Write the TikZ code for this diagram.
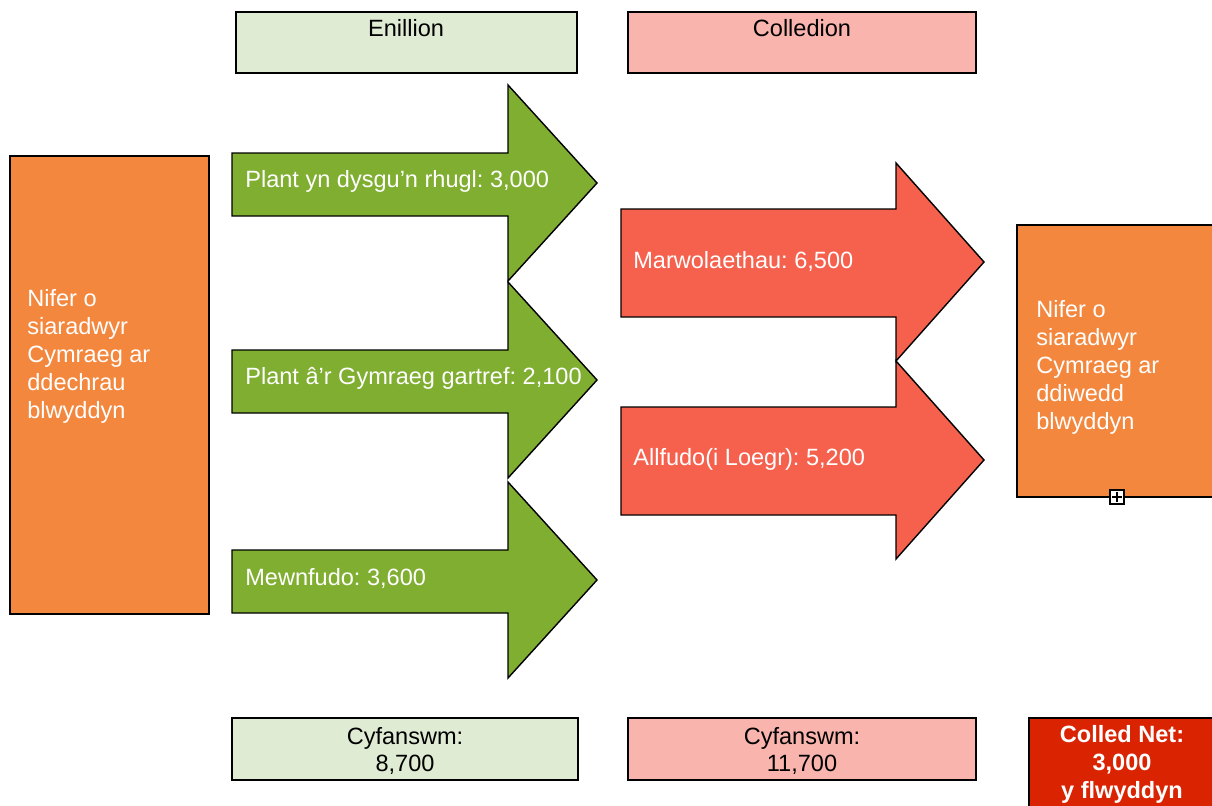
\documentclass[tikz,border=0pt]{standalone}
\usepackage{fontspec}
\setmainfont{Liberation Sans}
\usetikzlibrary{positioning}
\definecolor{gainbg}{HTML}{DFEBD3}
\definecolor{lossbg}{HTML}{F8B4AD}
\definecolor{spkorange}{HTML}{F3873D}
\definecolor{gainarrow}{HTML}{80AE31}
\definecolor{lossarrow}{HTML}{F6614E}
\definecolor{netred}{HTML}{DA2300}
\tikzset{
  box/.style={draw=black, line width=0.8pt},
  arrowtext/.style={text=white, anchor=west, inner sep=0pt},
  boxtext/.style={text=white, align=left, anchor=north west, inner sep=0pt}
}
\frenchspacing

\begin{document}
\begin{tikzpicture}[x=0.02cm, y=-0.02cm, every node/.style={font=\fontsize{13.4}{15.9}\selectfont}]
\useasboundingbox (0,0) rectangle (1212,805);

%headers
\draw[box, fill=gainbg] (236,12) rectangle (577,73);
\node (gainhead) at (406,28) {Enillion};
\draw[box, fill=lossbg] (628,12) rectangle (976,73);
\node (losshead) at (802,28) {Colledion};

%start and end
\draw[box, fill=spkorange] (10,156) rectangle (209,614);
\node[boxtext] (start) at (27,289) {Nifer o\\siaradwyr\\Cymraeg ar\\ddechrau\\blwyddyn};
\draw[box, fill=spkorange] (1017,225) rectangle (1215,497);
\node[boxtext] (finish) at (1036,300) {Nifer o\\siaradwyr\\Cymraeg ar\\ddiwedd\\blwyddyn};
\draw[line width=0.8pt, fill=white] (1110,490) rectangle (1124,504);
\draw[line width=0.8pt] (1112,497) -- (1122,497) (1117,492) -- (1117,502);

%gains
\foreach \cy/\txt [count=\i] in {183/{Plant yn dysgu’n rhugl: 3,000}, 380/{Plant â’r Gymraeg gartref: 2,100}, 580/{Mewnfudo: 3,600}}{
  \draw[box, fill=gainarrow] (232,\cy-30) -- (508,\cy-30) -- (508,\cy-98) -- (597,\cy) -- (508,\cy+98) -- (508,\cy+33) -- (232,\cy+33) -- cycle;
  \node[arrowtext] (gain\i) at (245,\cy-2) {\txt};
}

%losses
\foreach \cy/\txt [count=\i] in {262/{Marwolaethau: 6,500}, 460/{Allfudo(i Loegr): 5,200}}{
  \draw[box, fill=lossarrow] (621,\cy-53) -- (896,\cy-53) -- (896,\cy-99) -- (984,\cy) -- (896,\cy+99) -- (896,\cy+55) -- (621,\cy+55) -- cycle;
  \node[arrowtext] (loss\i) at (633,\cy-1) {\txt};
}

%totals
\draw[box, fill=gainbg] (232,718) rectangle (578,780);
\node[align=center] (gaintotal) at (405,751) {Cyfanswm:\\8,700};
\draw[box, fill=lossbg] (628,718) rectangle (976,780);
\node[align=center] (losstotal) at (802,751) {Cyfanswm:\\11,700};
\draw[box, fill=netred] (1029,718) rectangle (1215,810);
\node[align=center, text=white, font=\fontsize{13.4}{15.9}\bfseries] (net) at (1122,764) {Colled Net:\\3,000\\y flwyddyn};
\end{tikzpicture}
\end{document}
